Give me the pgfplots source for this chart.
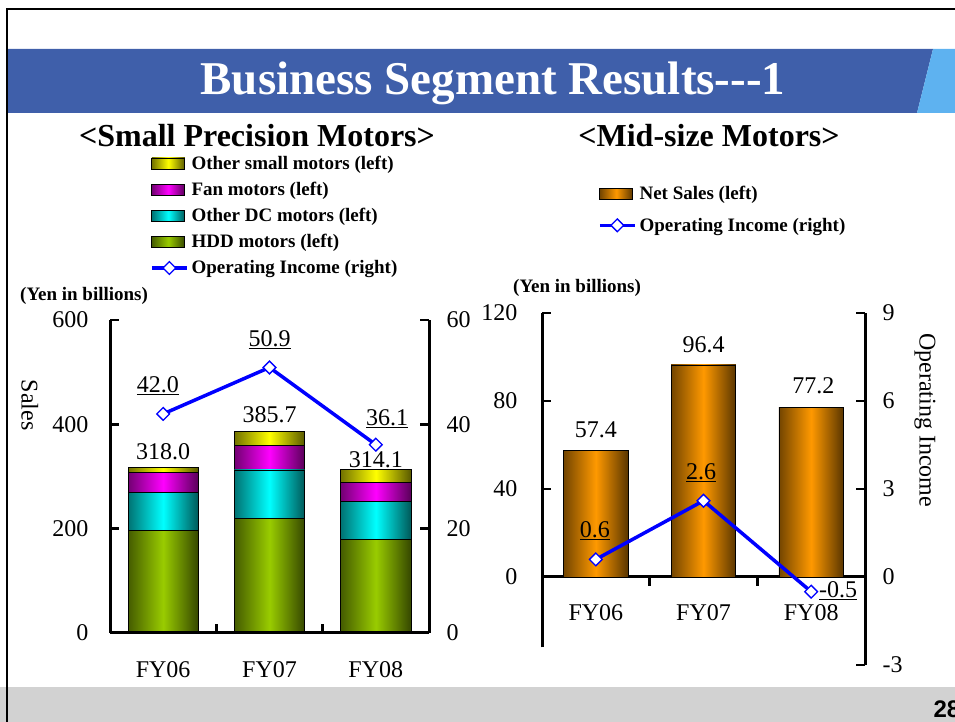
\documentclass[border=0pt]{standalone}
\usepackage{fontspec}
\setmainfont{Liberation Serif}
\newfontfamily\pagefont{Liberation Sans}
\usepackage{pgfplots}
\pgfplotsset{compat=1.18}

\definecolor{hdd}{HTML}{99CC00}
\definecolor{otherdc}{HTML}{00FFFF}
\definecolor{fan}{HTML}{FF00FF}
\definecolor{othersm}{HTML}{FFFF00}
\definecolor{netsales}{HTML}{FF9900}
\definecolor{band}{HTML}{3F5FAA}
\definecolor{bandlight}{HTML}{5EB2F0}
\definecolor{oiblue}{HTML}{0000FF}

\newcommand{\lbl}{\fontsize{24}{28}\selectfont}

\pgfplotsset{
  seg/.style={
    scale only axis, enlargelimits=false, clip=false,
    xmin=-0.5, xmax=2.5,
    tick align=inside,
    major tick length=9pt, minor tick length=9pt,
    tick style={black, line width=2.5pt},
    axis line style={black, line width=3pt, -},
    tick label style={font=\lbl},
    label style={font=\lbl},
    /pgf/number format/assume math mode=true,
  },
  % geometry of the small precision motors panel
  spm/.style={seg, at={(110pt,89pt)}, anchor=south west, width=319pt, height=313pt},
  spmbars/.style={spm, ymin=0, ymax=600, ybar stacked, bar width=0.66, hide axis},
  shadebar/.style={draw=black, line width=0.7pt,
    left color=#1!45!black, right color=#1!35!black, middle color=#1},
  barlegend/.style={legend image code/.code={%
    \draw[##1, line width=0.7pt] (0pt,-5.5pt) rectangle (33pt,5.5pt);}},
  linelegend/.style={legend image code/.code={%
    \draw[##1] (0pt,0pt) -- (35pt,0pt);
    \node[anchor=center, draw=oiblue, fill=white, line width=1.3pt, rotate=45, minimum size=9pt, inner sep=0pt] at (17.5pt,0pt) {};}},
  oiline/.style={oiblue, line width=3.5pt, mark=square*, mark size=4.5pt,
    mark options={rotate=45, fill=white, draw=oiblue, line width=1.3pt, solid}},
  seglegend/.style={legend cell align=left,
    legend style={draw=none, fill=none, inner sep=0pt, anchor=north west,
      font=\bfseries\fontsize{19}{21}\selectfont, row sep=#1, column sep=2pt,
      nodes={inner sep=1pt}}},
}

\begin{document}
\begin{tikzpicture}
\useasboundingbox (0pt,0pt) rectangle (955pt,722pt);

% --- slide decoration ---
\fill[band] (8pt,673pt) -- (933pt,673pt) -- (917pt,609pt) -- (8pt,609pt) -- cycle;
\fill[bandlight] (933pt,673pt) -- (955pt,673pt) -- (955pt,609pt) -- (917pt,609pt) -- cycle;
\fill[gray!35] (0pt,0pt) rectangle (955pt,35pt);
\draw[black, line width=2.5pt] (7pt,0pt) -- (7pt,713pt) -- (955pt,713pt);
\node[anchor=base, text=white, font=\bfseries\fontsize{47}{52}\selectfont] at (493pt,627pt) {Business Segment Results-{}-{}-1};
\node[anchor=base west, font=\pagefont\bfseries\fontsize{24}{28}\selectfont] at (930pt,4pt) {28};

\node[anchor=base, font=\bfseries\fontsize{32}{36}\selectfont] at (257pt,575pt) {<Small Precision Motors>};
\node[anchor=base, font=\bfseries\fontsize{32}{36}\selectfont] at (709pt,575pt) {<Mid-size Motors>};
\node[anchor=base west, inner sep=0pt, font=\bfseries\fontsize{19}{21}\selectfont] at (20pt,421pt) {(Yen in billions)};
\node[anchor=base west, inner sep=0pt, font=\bfseries\fontsize{19}{21}\selectfont] at (513pt,429pt) {(Yen in billions)};

% --- Small precision motors: stacked sales, one axis per year ---
\begin{axis}[spmbars]
\addplot[shadebar=hdd] coordinates {(0,196)};
\addplot[shadebar=otherdc] coordinates {(0,74)};
\addplot[shadebar=fan] coordinates {(0,38)};
\addplot[shadebar=othersm] coordinates {(0,10)};
\end{axis}
\begin{axis}[spmbars]
\addplot[shadebar=hdd] coordinates {(1,220)};
\addplot[shadebar=otherdc] coordinates {(1,92.5)};
\addplot[shadebar=fan] coordinates {(1,47.5)};
\addplot[shadebar=othersm] coordinates {(1,25.7)};
\end{axis}
\begin{axis}[spmbars]
\addplot[shadebar=hdd] coordinates {(2,179)};
\addplot[shadebar=otherdc] coordinates {(2,73.5)};
\addplot[shadebar=fan] coordinates {(2,36.5)};
\addplot[shadebar=othersm] coordinates {(2,25.1)};
\end{axis}

% --- Small precision motors: left axis, legend, totals ---
\begin{axis}[spm,
  ymin=0, ymax=600, ytick={0,200,400,600},
  axis x line*=bottom, axis y line*=left,
  xtick={0,1,2}, xticklabels={FY06,FY07,FY08},
  minor xtick={0.5,1.5}, major x tick style={draw=none},
  xticklabel style={yshift=-25pt},
  yticklabel style={xshift=-18pt},
  ylabel={Sales}, ylabel style={at={(axis description cs:-0.251,0.728)}, anchor=center, rotate=180},
  seglegend=9.3pt, legend style={at={(axis description cs:0.125,1.528)}},
]
\addlegendimage{barlegend, shadebar=othersm}\addlegendentry{Other small motors (left)}
\addlegendimage{barlegend, shadebar=fan}\addlegendentry{Fan motors (left)}
\addlegendimage{barlegend, shadebar=otherdc}\addlegendentry{Other DC motors (left)}
\addlegendimage{barlegend, shadebar=hdd}\addlegendentry{HDD motors (left)}
\addlegendimage{linelegend, oiline}\addlegendentry{Operating Income (right)}
\node[font=\lbl] at (axis cs:0,347) {318.0};
\node[font=\lbl] at (axis cs:1,418) {385.7};
\node[font=\lbl] at (axis cs:2,332) {314.1};
\end{axis}

% --- Small precision motors: operating income (right axis) ---
\begin{axis}[spm,
  ymin=0, ymax=60, ytick={0,20,40,60},
  axis x line=none, axis y line*=right,
  yticklabel style={xshift=14pt},
]
\addplot[oiline] coordinates {(0,42.0) (1,50.9) (2,36.1)};
\node[font=\lbl] at (axis cs:-0.05,47.5) {\underline{42.0}};
\node[font=\lbl] at (axis cs:1,56.2) {\underline{50.9}};
\node[font=\lbl] at (axis cs:2.105,41.0) {\underline{36.1}};
\end{axis}

% --- Mid-size motors: net sales (left axis) ---
\begin{axis}[seg, at={(542pt,409pt)}, anchor=north west, width=323pt, height=334.4pt,
  ymin=-32, ymax=120, ytick={0,40,80,120},
  axis x line*=middle, axis y line*=left,
  xtick={0,1,2}, xticklabels={FY06,FY07,FY08},
  minor xtick={0.5,1.5}, major x tick style={draw=none},
  xticklabel style={yshift=-15pt},
  yticklabel style={xshift=-21pt},
  ybar, bar width=0.6,
  seglegend=15pt, legend style={at={(axis description cs:0.173,1.383)}},
]
\addlegendimage{barlegend, shadebar=netsales}\addlegendentry{Net Sales (left)}
\addlegendimage{linelegend, oiline}\addlegendentry{Operating Income (right)}
\addplot[shadebar=netsales, bar shift=0pt] coordinates {(0,57.4)};
\addplot[shadebar=netsales, bar shift=0pt] coordinates {(1,96.4)};
\addplot[shadebar=netsales, bar shift=0pt] coordinates {(2,77.2)};
\node[font=\lbl] at (axis cs:0,66.8) {57.4};
\node[font=\lbl] at (axis cs:1,105.5) {96.4};
\node[font=\lbl] at (axis cs:2.02,86.8) {77.2};
\end{axis}

% --- Mid-size motors: operating income (right axis) ---
\begin{axis}[seg, at={(542pt,409pt)}, anchor=north west, width=323pt, height=352pt,
  ymin=-3, ymax=9, ytick={-3,0,3,6,9},
  axis x line=none, axis y line*=right,
  yticklabel style={xshift=14pt},
  ylabel={Operating Income}, ylabel style={at={(axis description cs:1.186,0.696)}, anchor=center, rotate=180},
]
\addplot[oiline] coordinates {(0,0.6) (1,2.6) (2,-0.5)};
\node[font=\lbl] at (axis cs:-0.01,1.57) {\underline{0.6}};
\node[font=\lbl] at (axis cs:0.977,3.55) {\underline{2.6}};
\node[font=\lbl] at (axis cs:2.25,-0.48) {\underline{-0.5}};
\end{axis}
\end{tikzpicture}
\end{document}
